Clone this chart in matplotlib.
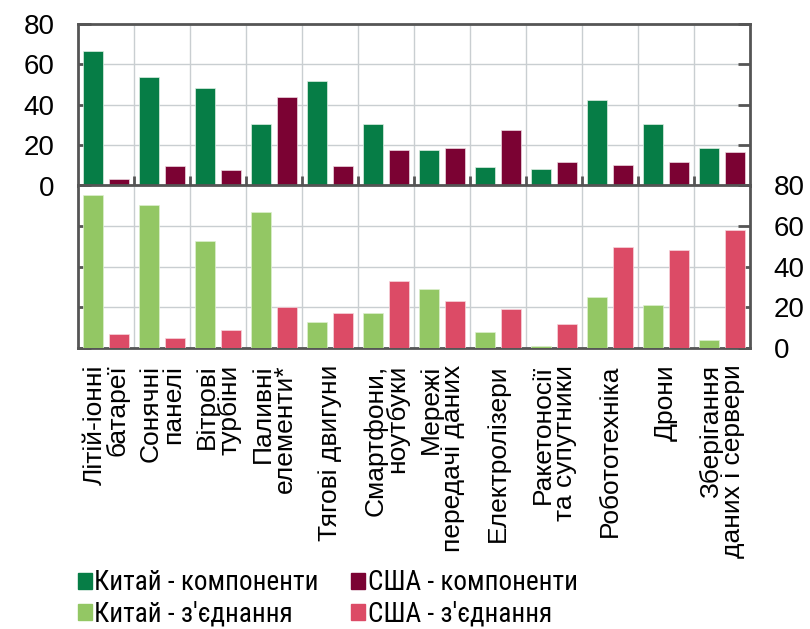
import matplotlib
matplotlib.use("Agg")
import matplotlib.pyplot as plt
from matplotlib import font_manager
import numpy as np
from matplotlib.patches import Patch

categories = ["Літій-іонні\nбатареї", "Сонячні\nпанелі", "Вітрові\nтурбіни", "Паливні\nелементи*",
              "Тягові двигуни", "Смартфони,\nноутбуки", "Мережі\nпередачі даних", "Електролізери",
              "Ракетоносії\nта супутники", "Робототехніка", "Дрони", "Зберігання\nданих і сервери"]
cn_comp = [66.7, 53.7, 48.5, 30.6, 51.7, 30.6, 17.4, 9.4, 8.4, 42.5, 30.6, 18.5]
us_comp = [3.3, 9.6, 7.5, 43.7, 9.6, 17.4, 18.5, 27.6, 11.6, 10.4, 11.6, 16.4]
cn_conn = [75.2, 70.2, 52.9, 67.1, 12.9, 17.0, 28.9, 7.9, 1.0, 25.0, 21.0, 3.8]
us_conn = [6.8, 5.0, 8.9, 20.0, 17.0, 33.0, 23.0, 19.0, 11.9, 49.9, 48.1, 58.0]
yticks = [0, 20, 40, 60, 80]
series_names = ["Китай - компоненти", "Китай - з'єднання", "США - компоненти", "США - з'єднання"]

C_CN_COMP = "#067D46"
C_US_COMP = "#7B0233"
C_CN_CONN = "#93C764"
C_US_CONN = "#DC4B66"
GRID = "#C9CED1"
SPINE = "#555555"

plt.rcParams['font.family'] = ['Liberation Sans', 'DejaVu Sans']

# legend font: use a condensed face if one happens to be installed
names = {f.name for f in font_manager.fontManager.ttflist}
narrow = None
for cand in ["Liberation Sans Narrow", "Roboto Condensed", "Open Sans Condensed"]:
    if cand in names:
        narrow = cand
        break
if narrow is not None:
    leg_prop = {'family': [narrow, 'Liberation Sans'], 'size': 19.5}
    colsp = 1.2
else:
    leg_prop = {'size': 19}
    colsp = 0.75

fig = plt.figure(figsize=(8.1, 6.29), dpi=100)
W, H = 810, 629
x0, x1 = 78, 750
ax1 = fig.add_axes([x0 / W, 1 - 185.5 / H, (x1 - x0) / W, (185.5 - 24) / H])
ax2 = fig.add_axes([x0 / W, 1 - 348 / H, (x1 - x0) / W, (348 - 185.5) / H])

n = len(categories)
x = np.arange(n)
bw = 0.36
off = 0.23

def style(ax, left_labels):
    ax.set_xlim(-0.5, n - 0.5)
    ax.set_ylim(0, 80)
    ax.set_yticks(yticks)
    ax.set_xticks(np.arange(n - 1) + 0.5, minor=True)
    ax.grid(True, which='minor', axis='x', color=GRID, lw=1.0, zorder=0)
    ax.grid(True, which='major', axis='y', color=GRID, lw=1.0, zorder=0)
    ax.set_axisbelow(True)
    for s in ax.spines.values():
        s.set_color(SPINE)
        s.set_linewidth(2)
    ax.tick_params(axis='y', which='major', direction='in', length=9, width=2, color=SPINE,
                   left=True, right=True, labelleft=left_labels, labelright=not left_labels,
                   labelsize=20, pad=17)

style(ax1, True)
style(ax2, False)

ax1.bar(x - off, cn_comp, bw, color=C_CN_COMP, edgecolor='#DDEEE3', lw=0.5, zorder=3)
ax1.bar(x + off, us_comp, bw, color=C_US_COMP, edgecolor='#EED9E0', lw=0.5, zorder=3)
ax2.bar(x - off, cn_conn, bw, color=C_CN_CONN, edgecolor='#DDF0CF', lw=0.5, zorder=3)
ax2.bar(x + off, us_conn, bw, color=C_US_CONN, edgecolor='#F7D5DC', lw=0.5, zorder=3)

ax1.set_xticks([])
ax1.tick_params(axis='x', which='minor', direction='in', length=7, width=2, color=SPINE,
                bottom=True, top=False)
ax2.tick_params(axis='x', which='minor', length=0)
ax2.set_xticks(x)
ax2.set_xticklabels(categories, rotation=90, fontsize=19, linespacing=0.9,
                    multialignment='right')
ax2.tick_params(axis='x', which='major', length=0, pad=12)

handles = [Patch(color=c) for c in [C_CN_COMP, C_CN_CONN, C_US_COMP, C_US_CONN]]
fig.legend(handles, series_names, ncol=2, loc='center left',
           bbox_to_anchor=(78 / W, 1 - 598.5 / H), frameon=False,
           prop=leg_prop,
           handlelength=0.5, handleheight=0.5, handletextpad=0.1,
           columnspacing=colsp, labelspacing=0.15, borderpad=0, borderaxespad=0)

fig.savefig("out.png", dpi=100)
